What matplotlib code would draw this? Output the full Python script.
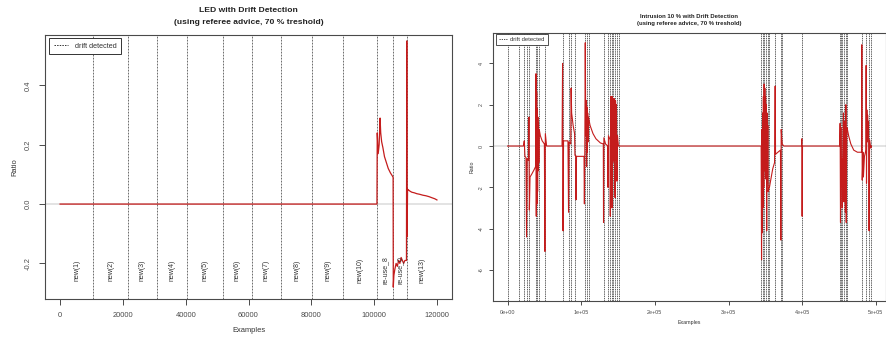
import matplotlib
matplotlib.use("Agg")
import matplotlib.pyplot as plt
from matplotlib.lines import Line2D

plt.rcParams['font.family'] = ['Liberation Sans', 'DejaVu Sans']

# ---------------- LED stream ----------------
led_x = [0, 100900, 101000, 101300, 101600, 101900, 102100, 102400, 102800,
         103300, 103900, 104500, 105200, 105800, 106050, 106100, 106300,
         106600, 107000, 107400, 107800, 108200, 108600, 109000, 109400,
         109800, 110300, 110400, 110500, 110650, 111000, 111500, 112000,
         112800, 113600, 114500, 115500, 116500, 117500, 118500, 119300, 120000]
led_y = [0.0, 0.0, 0.24, 0.17, 0.20, 0.29, 0.24, 0.21, 0.19,
         0.16, 0.14, 0.12, 0.105, 0.095, 0.09, -0.28, -0.24,
         -0.22, -0.20, -0.21, -0.19, -0.20, -0.18, -0.19, -0.20,
         -0.19, -0.19, 0.55, -0.11, 0.05, 0.047, 0.043, 0.04,
         0.038, 0.035, 0.033, 0.03, 0.028, 0.025, 0.021, 0.018, 0.014]
led_drifts = [10600, 21700, 30800, 40300, 51800, 61000, 70400, 80300,
              90200, 101000, 106100, 110550]
led_labels = ["new(1)", "new(2)", "new(3)", "new(4)", "new(5)", "new(6)",
              "new(7)", "new(8)", "new(9)", "new(10)", "re-use_8", "re-use_0",
              "new(13)"]
led_xticks = [0, 20000, 40000, 60000, 80000, 100000, 120000]
led_yticks = [-0.2, 0.0, 0.2, 0.4]

# ---------------- Intrusion 10 % stream ----------------
intr_x = [0, 21500, 22700, 23600, 25000, 25800, 26600, 28400, 29000, 29600,
          30500, 33000, 36000, 38000, 38600, 39000, 39500, 40000, 40400, 40800,
          41200, 41600, 42000, 42500, 43000, 44500, 47000, 50000, 50700, 51300,
          53000, 74000, 74700, 75300, 76000, 82000, 82800, 83500, 85800, 86300,
          87000, 89000, 91000, 91500, 92500, 93000, 93600, 103800, 104300, 104900,
          105500, 106200, 106800, 107300, 107800, 108300, 108800, 109400, 109900, 112000,
          116000, 120000, 126000, 130000, 130300, 130800, 133000, 136000, 136300, 137000,
          139200, 139500, 140000, 140500, 141000, 141500, 141900, 142300, 142900, 143500,
          144000, 144600, 145200, 146000, 146600, 147200, 147800, 148500, 149200, 150500,
          344000, 344300, 344800, 345300, 345800, 346300, 346800, 347300, 347800, 348300,
          348800, 349300, 349800, 350300, 350800, 351300, 351800, 352300, 352800, 353300,
          353800, 354500, 355500, 357500, 360000, 362500, 363300, 363800, 367000, 370500,
          371000, 371500, 372800, 375000, 399000, 399500, 399900, 400400, 451000, 451500,
          452000, 452500, 453000, 453500, 454300, 455000, 456000, 456600, 457300, 458000,
          458600, 459300, 459800, 460500, 461400, 463000, 466000, 470000, 475000, 480500,
          480900, 481500, 482500, 483100, 484500, 486500, 486800, 487300, 487800, 488300,
          488800, 489300, 490000, 490800, 491500, 493100, 494000]
intr_y = [0.0, 0.0, 0.25, -0.5, -0.55, -4.4, -0.6, -0.7, 1.4, -3.1,
          -1.5, -1.35, -1.15, -1.0, 3.5, -3.4, 2.6, -2.8, 1.8, -2.2,
          1.4, -1.2, 1.1, -0.8, 0.8, 0.5, 0.25, 0.1, -5.1, 0.6,
          0.0, 0.0, 4.0, -4.1, 0.25, 0.25, -3.2, 0.2, 0.1, 2.8,
          1.6, 1.0, 0.6, -0.45, -0.45, -2.6, -0.5, -0.5, -2.8, -0.2,
          5.0, 0.5, 2.2, -1.0, 1.9, -0.3, 1.6, 0.2, 1.4, 1.0,
          0.6, 0.35, 0.15, 0.1, -3.7, 0.4, 0.1, 0.0, -2.0, 0.5,
          0.3, -3.4, 2.4, -0.8, 2.4, -0.8, -3.0, 2.4, -0.8, 2.3,
          -0.7, 2.3, -0.8, -2.5, 2.2, -0.7, 2.0, -1.7, 0.5, 0.0,
          0.0, 0.0, -5.5, 0.8, -4.2, 1.6, -3.0, 2.4, -2.0, 3.0,
          -1.2, 2.8, -0.8, 2.4, -1.6, 2.0, -4.1, 1.6, -1.8, 1.0,
          -2.2, -2.1, -2.0, -1.6, -1.1, -0.8, 2.9, -0.4, -0.3, -0.2,
          -4.55, 0.8, 0.1, 0.0, 0.0, 0.35, -3.4, 0.0, 0.0, 1.1,
          -3.7, 0.9, -2.0, -0.6, -3.0, -0.5, 1.6, -2.7, -1.0, 1.2,
          -3.2, 2.0, -3.7, 0.9, 0.8, 0.5, 0.1, -0.2, -0.3, -0.3,
          4.9, -1.65, -0.3, -1.5, -0.5, -0.2, 3.9, -1.8, 1.75, 0.2,
          1.5, 0.9, 1.2, -4.1, 0.3, -0.1, 0.0]
intr_drifts = [500, 15900, 22700, 25800, 29000, 38500, 40300, 42100, 50700,
               74700, 82800, 86000, 91900, 104500, 107200, 109900,
               130300, 136200, 139400, 141700, 143800, 146200, 148500, 150700,
               344300, 346600, 348800, 351100, 353400, 355500, 363300, 371000,
               372800, 399500,
               451500, 452800, 454600, 456900, 459200, 461400, 480900, 486800,
               490800, 493100]
intr_xticks = [0, 100000, 200000, 300000, 400000, 500000]
intr_xticklabels = ["0e+00", "1e+05", "2e+05", "3e+05", "4e+05", "5e+05"]
intr_yticks = [-6, -4, -2, 0, 2, 4]

LINE_RED = "#c41c1c"
AXIS_GREY = "#4a4a4a"

fig = plt.figure(figsize=(8.87, 3.37), dpi=100)
ax1 = fig.add_axes([45 / 887, 1 - 299 / 337, 407 / 887, 264 / 337])
ax2 = fig.add_axes([493 / 887, 1 - 301 / 337, 393 / 887, 268 / 337])


def style_axes(ax, tick_fs, tick_len, tick_pad):
    for s in ax.spines.values():
        s.set_color(AXIS_GREY)
        s.set_linewidth(0.8)
    ax.tick_params(direction="out", length=tick_len, width=0.7,
                   colors=AXIS_GREY, labelsize=tick_fs, pad=tick_pad)
    for lab in ax.get_yticklabels():
        lab.set_rotation(90)
        lab.set_va("center")


# ---- left panel ----
ax1.axhline(0, color="#dedede", lw=1.2, zorder=1)
for d in led_drifts:
    ax1.axvline(d, color="#555555", lw=0.6, ls=(0, (2.2, 1.4)), zorder=2)
ax1.plot(led_x, led_y, color=LINE_RED, lw=0.9, zorder=3)
bounds = [0] + led_drifts + [120000]
for lab, a, b in zip(led_labels, bounds[:-1], bounds[1:]):
    ax1.text((a + b) / 2, -0.222, lab, rotation=90, ha="center", va="center",
             fontsize=5.0, color="#333333", zorder=4)
ax1.set_xlim(-4800, 124800)
ax1.set_ylim(-0.32, 0.57)
ax1.set_xticks(led_xticks)
ax1.set_xticklabels([str(v) for v in led_xticks])
ax1.set_yticks(led_yticks)
ax1.set_yticklabels(["-0.2", "0.0", "0.2", "0.4"])
style_axes(ax1, 5.4, 4.0, 5.5)
ax1.set_xlabel("Examples", fontsize=5.4, color="#333333")
ax1.xaxis.set_label_coords(0.5, -0.106)
ax1.set_ylabel("Ratio", fontsize=5.4, color="#333333")
ax1.yaxis.set_label_coords(-0.066, 0.5)
leg1 = ax1.legend(handles=[Line2D([], [], color="#333333", lw=0.7, ls=(0, (1.5, 1.2)))],
                  labels=["drift detected"], loc="upper left",
                  bbox_to_anchor=(0.0098, 0.9886), borderaxespad=0,
                  fontsize=5.2, frameon=True, fancybox=False,
                  edgecolor="#333333", framealpha=1, handlelength=2.0,
                  handletextpad=0.9, borderpad=0.65)
leg1.get_frame().set_linewidth(0.7)
leg1.get_texts()[0].set_color("#333333")
fig.text(248.5 / 887, 1 - 11 / 337, "LED with Drift Detection", ha="center",
         va="center", fontsize=6.1, fontweight="bold", color="#222222")
fig.text(248.5 / 887, 1 - 23 / 337, "(using referee advice, 70 % treshold)",
         ha="center", va="center", fontsize=6.1, fontweight="bold", color="#222222")

# ---- right panel ----
ax2.axhline(0, color="#dedede", lw=1.2, zorder=1)
for d in intr_drifts:
    ax2.axvline(d, color="#222222", lw=0.5, ls=(0, (2.0, 1.2)), zorder=2)
ax2.plot(intr_x, intr_y, color=LINE_RED, lw=0.8, zorder=3)
ax2.set_xlim(-19760, 513760)
ax2.set_ylim(-7.5, 5.47)
ax2.set_xticks(intr_xticks)
ax2.set_xticklabels(intr_xticklabels)
ax2.set_yticks(intr_yticks)
ax2.set_yticklabels([str(v) for v in intr_yticks])
style_axes(ax2, 3.9, 3.0, 3.5)
ax2.set_xlabel("Examples", fontsize=3.8, color="#333333")
ax2.xaxis.set_label_coords(0.5, -0.071)
ax2.set_ylabel("Ratio", fontsize=3.8, color="#333333")
ax2.yaxis.set_label_coords(-0.048, 0.5)
leg2 = ax2.legend(handles=[Line2D([], [], color="#333333", lw=0.6, ls=(0, (1.5, 1.2)))],
                  labels=["drift detected"], loc="upper left",
                  bbox_to_anchor=(0.0069, 0.9963), borderaxespad=0,
                  fontsize=4.2, frameon=True, fancybox=False,
                  edgecolor="#333333", framealpha=1, handlelength=1.4,
                  handletextpad=0.5, borderpad=0.55)
leg2.get_frame().set_linewidth(0.6)
leg2.get_texts()[0].set_color("#333333")
fig.text(689.5 / 887, 1 - 16 / 337, "Intrusion 10 % with Drift Detection",
         ha="center", va="center", fontsize=4.3, fontweight="bold", color="#222222")
fig.text(689.5 / 887, 1 - 24 / 337, "(using referee advice, 70 % treshold)",
         ha="center", va="center", fontsize=4.3, fontweight="bold", color="#222222")

fig.savefig("out.png", dpi=100)
